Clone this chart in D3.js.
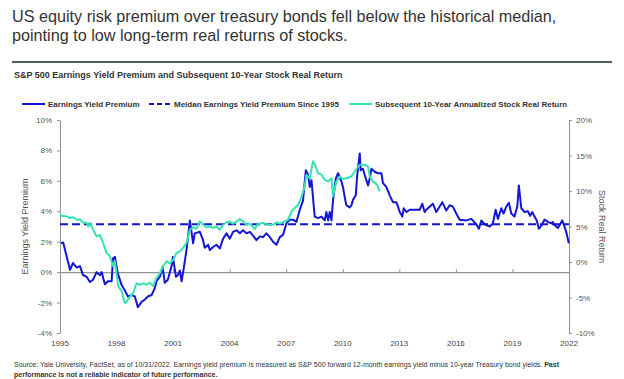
<!DOCTYPE html>
<html><head><meta charset="utf-8">
<script src="https://cdn.jsdelivr.net/npm/d3@7/dist/d3.min.js"></script>
<style>
html,body{margin:0;padding:0;background:#fff;}
svg{display:block;font-family:"Liberation Sans",Arial,sans-serif;}
</style></head>
<body>
<svg id="chart" width="624" height="379"></svg>
<script>
// ---- data ----
const titleLines = ["US equity risk premium over treasury bonds fell below the historical median,",
                    "pointing to low long-term real returns of stocks."];
const chartTitle = "S&P 500 Earnings Yield Premium and Subsequent 10-Year Stock Real Return";
const seriesNames = ["Earnings Yield Premium", "Meidan Earnings Yield Premium Since 1995", "Subsequent 10-Year Annualized Stock Real Return"];
const xTickYears = [1995,1998,2001,2004,2007,2010,2013,2016,2019,2022];
const leftTicks = [-4,-2,0,2,4,6,8,10];
const rightTicks = [-10,-5,0,5,10,15,20];
const medianPremium = 3.15;

const premiumYears = [1995.05,1995.17,1995.36,1995.53,1995.69,1995.89,1996.06,1996.22,1996.41,1996.59,1996.75,1996.94,
1997.12,1997.21,1997.38,1997.54,1997.74,1997.81,1997.91,1998.07,1998.27,1998.44,1998.60,1998.80,1998.97,
1999.13,1999.33,1999.50,1999.66,1999.86,2000.03,2000.12,2000.30,2000.44,2000.56,2000.72,2000.92,2000.99,
2001.15,2001.25,2001.36,2001.45,2001.57,2001.71,2001.89,2002.06,2002.15,2002.42,2002.59,2002.68,2002.86,2002.95,
2003.12,2003.30,2003.48,2003.65,2003.83,2004.01,2004.18,2004.36,2004.54,2004.71,2004.89,2005.07,2005.24,2005.42,
2005.60,2005.77,2005.95,2006.13,2006.30,2006.48,2006.66,2006.83,2007.01,2007.19,2007.36,2007.54,2007.72,2007.89,
2008.04,2008.16,2008.25,2008.34,2008.51,2008.69,2008.87,2009.04,2009.13,2009.22,2009.31,2009.40,2009.48,2009.63,
2009.75,2009.93,2010.01,2010.10,2010.19,2010.37,2010.46,2010.54,2010.69,2010.76,2010.90,2010.95,2011.07,2011.16,
2011.34,2011.43,2011.52,2011.69,2011.87,2012.05,2012.13,2012.31,2012.49,2012.66,2012.84,2012.93,2013.02,2013.16,
2013.23,2013.37,2013.55,2013.90,2014.08,2014.22,2014.34,2014.43,2014.78,2014.96,2015.28,2015.49,2015.67,2015.84,
2016.02,2016.20,2016.55,2016.82,2017.08,2017.22,2017.35,2017.52,2017.79,2017.96,2018.11,2018.23,2018.41,2018.53,
2018.67,2018.81,2018.94,2019.11,2019.26,2019.34,2019.47,2019.64,2019.82,2019.94,2020.05,2020.17,2020.29,2020.40,
2020.53,2020.70,2020.88,2021.06,2021.14,2021.23,2021.41,2021.53,2021.64,2021.76,2021.85,2021.99];
const premiumValues = [1.9,1.95,1.0,0.15,0.6,0.3,0.4,-0.2,-0.3,-0.65,-0.5,0.0,
-0.2,0.0,-0.8,-0.6,-0.6,0.9,1.0,-0.1,-0.85,-1.2,-1.6,-1.5,-1.6,
-2.3,-1.95,-1.8,-1.6,-1.5,-1.05,-0.6,-0.3,0.35,-0.7,-0.5,0.4,1.0,
-0.3,-0.2,0.1,-0.6,0.3,1.45,3.4,1.9,2.55,2.65,2.1,1.6,1.8,1.45,
1.65,1.8,1.55,2.2,2.55,2.2,2.65,2.75,2.55,2.75,2.55,2.65,2.4,2.1,
2.35,2.3,2.55,2.3,2.0,1.8,2.3,2.45,3.2,3.45,3.45,3.3,4.1,4.7,
6.7,6.4,5.6,6.05,3.65,3.55,3.65,3.4,3.95,3.4,3.95,3.4,4.7,6.15,
6.5,5.95,5.6,4.95,4.4,4.25,4.4,4.75,5.05,6.3,7.8,6.7,6.8,6.4,
5.7,6.15,6.8,6.6,6.5,6.5,5.85,5.6,5.05,4.6,4.6,4.3,3.95,3.65,
4.2,3.95,4.1,4.1,4.1,4.5,3.95,4.1,4.5,3.95,4.6,4.05,4.4,4.3,
3.85,3.45,3.4,3.5,3.15,2.85,3.4,3.15,3.0,3.2,4.1,3.5,4.2,3.85,
4.3,4.55,3.85,3.65,4.35,5.7,4.2,3.95,4.0,3.7,3.95,3.65,3.4,2.85,
3.05,3.45,3.3,3.2,3.3,3.1,2.9,3.15,3.4,3.0,2.65,1.9];

const returnYears = [1995.00,1995.09,1995.36,1995.53,1995.70,1995.89,1996.06,1996.23,1996.41,1996.50,1996.59,1996.76,1996.94,
1997.12,1997.29,1997.47,1997.65,1997.82,1997.91,1998.09,1998.27,1998.44,1998.53,1998.71,1998.88,1999.06,1999.24,
1999.41,1999.59,1999.77,1999.94,2000.12,2000.30,2000.47,2000.65,2000.83,2001.00,2001.18,2001.36,2001.53,2001.71,
2001.80,2001.89,2002.06,2002.24,2002.42,2002.59,2002.77,2002.95,2003.12,2003.30,2003.48,2003.65,2003.83,2004.01,
2004.18,2004.36,2004.54,2004.71,2004.89,2005.07,2005.33,2005.51,2005.77,2006.04,2006.30,2006.48,2006.66,2006.92,
2007.10,2007.28,2007.45,2007.63,2007.81,2007.98,2008.07,2008.25,2008.42,2008.57,2008.69,2008.87,2009.04,2009.22,
2009.40,2009.48,2009.66,2009.84,2010.01,2010.19,2010.46,2010.63,2010.90,2011.16,2011.34,2011.43,2011.60,2011.82,2011.96];
const returnValues = [6.65,6.5,6.4,6.2,6.3,5.95,6.0,5.5,5.55,5.0,5.5,4.55,3.6,
3.8,2.7,1.25,0.8,-0.6,0.1,-3.4,-4.1,-5.8,-5.6,-4.85,-4.4,-3.0,-3.2,
-3.0,-3.2,-2.9,-3.4,-2.25,-1.55,-0.6,0.1,-0.2,0.3,1.25,1.5,2.0,2.7,
3.6,4.55,4.9,4.7,5.7,5.25,4.9,5.0,4.8,5.0,4.55,5.25,5.6,5.7,
5.4,5.7,6.05,5.7,5.25,5.4,4.65,5.4,5.5,5.25,5.25,5.6,5.4,5.7,
5.95,7.1,7.6,8.05,9.2,10.65,12.3,11.8,14.2,13.45,12.5,12.3,11.6,11.35,
11.8,9.25,11.35,12.05,11.7,11.8,12.05,12.75,13.7,13.7,13.45,12.05,11.35,10.9,9.95];

const footLine1 = "Source: Yale University, FactSet, as of 10/31/2022. Earnings yield premium is measured as S&P 500 forward 12-month earnings yield minus 10-year Treasury bond yields. ";
const footBold1 = "Past";
const footBold2 = "performance is not a reliable indicator of future performance.";

// ---- drawing ----
const blue = "#1515d4", teal = "#35e3b2", axisCol = "#8a9692", labCol = "#555";
const svg = d3.select("#chart");
const L = 60, R = 569, T = 120, B = 333;
const x = d3.scaleLinear().domain([1995, 2022]).range([L, R]);
const yL = d3.scaleLinear().domain([-4, 10]).range([B, T]);
const yR = d3.scaleLinear().domain([-10, 20]).range([B, T]);

// titles
svg.append("text").attr("x", 12).attr("y", 22).attr("font-size", 16.2).attr("fill", "#333").text(titleLines[0]);
svg.append("text").attr("x", 12).attr("y", 41).attr("font-size", 16.2).attr("fill", "#333").text(titleLines[1]);
svg.append("line").attr("x1", 12).attr("x2", 612).attr("y1", 62).attr("y2", 62).attr("stroke", "#4f5f5a").attr("stroke-width", 2);
svg.append("text").attr("x", 14).attr("y", 77.5).attr("font-size", 9).attr("font-weight", "bold").attr("fill", "#333").text(chartTitle);

// legend
const lg = svg.append("g").attr("font-size", 8).attr("font-weight", "bold").attr("fill", "#333");
const legendItems = [
  {x1: 22, x2: 45, tx: 48, color: blue, dash: null, name: seriesNames[0]},
  {x1: 149, x2: 171, tx: 174, color: blue, dash: "5,3", name: seriesNames[1]},
  {x1: 349, x2: 372, tx: 375, color: teal, dash: null, name: seriesNames[2]}
];
legendItems.forEach(d => {
  lg.append("line").attr("x1", d.x1).attr("x2", d.x2).attr("y1", 104).attr("y2", 104)
    .attr("stroke", d.color).attr("stroke-width", 2).attr("stroke-dasharray", d.dash);
  lg.append("text").attr("x", d.tx).attr("y", 107).text(d.name);
});

// axes
function styleAxis(g) {
  g.select(".domain").attr("stroke", axisCol);
  g.selectAll(".tick line").attr("stroke", axisCol);
  g.selectAll(".tick text").attr("fill", labCol).attr("font-size", 8).attr("font-family", "Liberation Sans, Arial, sans-serif");
}
svg.append("g").attr("transform", `translate(${L},0)`)
  .call(d3.axisLeft(yL).tickValues(leftTicks).tickFormat(d => d + "%").tickSize(3).tickPadding(5).tickSizeOuter(0))
  .call(styleAxis);
svg.append("g").attr("transform", `translate(${R},0)`)
  .call(d3.axisRight(yR).tickValues(rightTicks).tickFormat(d => d + "%").tickSize(3).tickPadding(4).tickSizeOuter(0))
  .call(styleAxis);
// zero line with year ticks
const xg = svg.append("g").attr("transform", `translate(0,${yL(0)})`)
  .call(d3.axisTop(x).tickValues(xTickYears).tickFormat("").tickSize(3).tickSizeOuter(0));
xg.select(".domain").attr("stroke", axisCol).attr("stroke-width", 1.2);
xg.selectAll(".tick line").attr("stroke", axisCol);
svg.append("g").selectAll("text").data(xTickYears).join("text")
  .attr("x", d => x(d)).attr("y", 346).attr("text-anchor", "middle")
  .attr("font-size", 8).attr("fill", "#444").text(d => d);

// axis titles
svg.append("text").attr("transform", `translate(28,226.5) rotate(-90)`).attr("text-anchor", "middle")
  .attr("font-size", 9).attr("fill", labCol).text("Earnings Yield Premium");
svg.append("text").attr("transform", `translate(599,226.5) rotate(90)`).attr("text-anchor", "middle")
  .attr("font-size", 9).attr("fill", labCol).text("Stock Real Return");

// median dashed line
svg.append("line").attr("x1", x(1995)).attr("x2", x(2022)).attr("y1", yL(medianPremium)).attr("y2", yL(medianPremium))
  .attr("stroke", blue).attr("stroke-width", 2).attr("stroke-dasharray", "8,4");

// series
const premium = premiumYears.map((t, i) => [t, premiumValues[i]]);
const returns = returnYears.map((t, i) => [t, returnValues[i]]);
svg.append("path").datum(premium).attr("fill", "none").attr("stroke", blue).attr("stroke-width", 2).attr("stroke-linejoin", "round")
  .attr("d", d3.line().x(d => x(d[0])).y(d => yL(d[1])));
svg.append("path").datum(returns).attr("fill", "none").attr("stroke", teal).attr("stroke-width", 2).attr("stroke-linejoin", "round")
  .attr("d", d3.line().x(d => x(d[0])).y(d => yR(d[1])));

// footnote
const f1 = svg.append("text").attr("x", 14).attr("y", 367).attr("font-size", 7).attr("fill", "#333");
f1.append("tspan").text(footLine1);
f1.append("tspan").attr("font-weight", "bold").text(footBold1);
svg.append("text").attr("x", 14).attr("y", 377).attr("font-size", 7).attr("font-weight", "bold").attr("fill", "#333").text(footBold2);
</script>
</body></html>
